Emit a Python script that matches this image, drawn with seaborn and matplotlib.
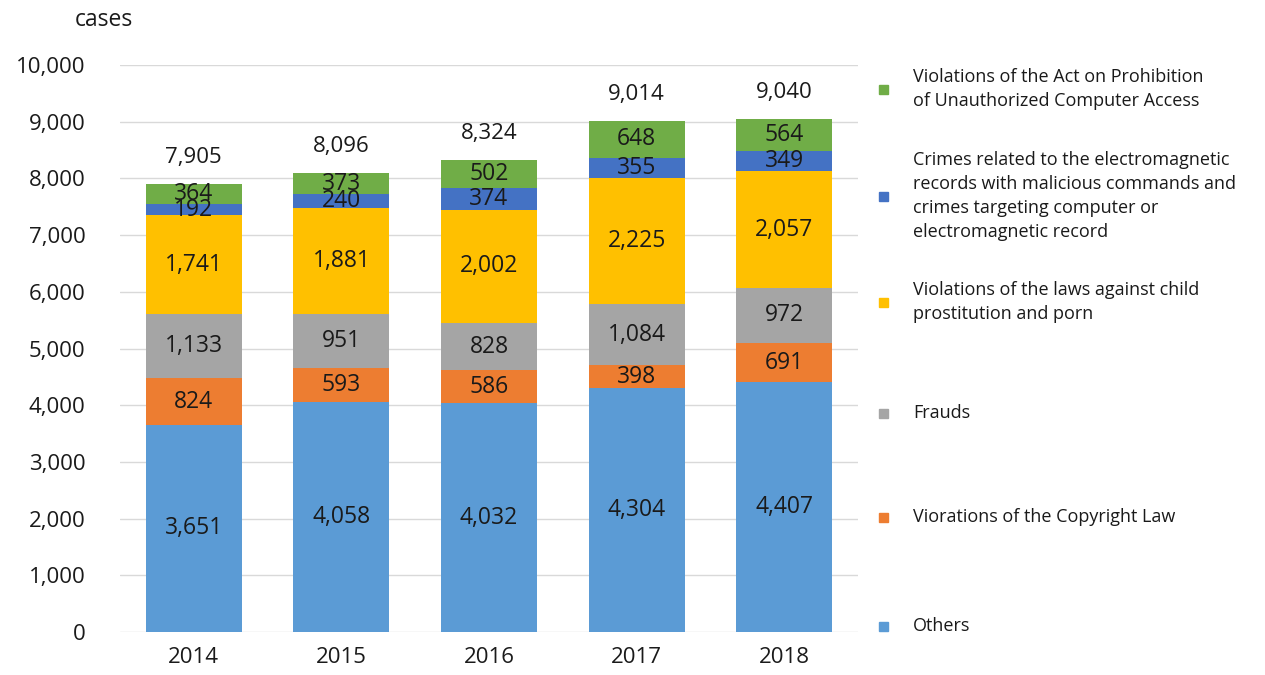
import matplotlib
matplotlib.use("Agg")
import matplotlib.pyplot as plt
import seaborn as sns
import pandas as pd
import numpy as np

# Data
years = ["2014", "2015", "2016", "2017", "2018"]
others = [3651, 4058, 4032, 4304, 4407]
copyright_law = [824, 593, 586, 398, 691]
frauds = [1133, 951, 828, 1084, 972]
child_porn = [1741, 1881, 2002, 2225, 2057]
malicious = [192, 240, 374, 355, 349]
unauthorized = [364, 373, 502, 648, 564]

labels = [
    "Others",
    "Viorations of the Copyright Law",
    "Frauds",
    "Violations of the laws against child\nprostitution and porn",
    "Crimes related to the electromagnetic\nrecords with malicious commands and\ncrimes targeting computer or\nelectromagnetic record",
    "Violations of the Act on Prohibition\nof Unauthorized Computer Access",
]
series = [others, copyright_law, frauds, child_porn, malicious, unauthorized]
colors = ["#5B9BD5", "#ED7D31", "#A5A5A5", "#FFC000", "#4472C4", "#70AD47"]

sns.set_theme(style="white")
plt.rcParams["font.family"] = ["Open Sans", "DejaVu Sans"]

fig = plt.figure(figsize=(12.65, 6.75), dpi=100)
ax = fig.add_axes([120 / 1265, 1 - 632 / 675, 738 / 1265, 567 / 675])

bottom = np.zeros(len(years))
for vals, col, lab in zip(series, colors, labels):
    df = pd.DataFrame({"year": years, "value": vals})
    sns.barplot(data=df, x="year", y="value", color=col, width=0.65,
                bottom=bottom, ax=ax, saturation=1, linewidth=0)
    # segment labels
    for i, v in enumerate(vals):
        ax.text(i, bottom[i] + v / 2, f"{v:,}", ha="center", va="center",
                fontsize=16.5, color="#1a1a1a")
    bottom = bottom + np.array(vals)

# totals
for i, t in enumerate(bottom):
    ax.text(i, t + 470, f"{int(t):,}", ha="center", va="center",
            fontsize=16, color="#1a1a1a")

ax.set_ylim(0, 10000)
ax.set_xlim(-0.5, 4.5)
ax.set_yticks(range(0, 10001, 1000))
ax.set_yticklabels([f"{v:,}" for v in range(0, 10001, 1000)])
ax.yaxis.grid(True, color="#D9D9D9", linewidth=1)
ax.set_axisbelow(True)
for s in ax.spines.values():
    s.set_visible(False)
ax.tick_params(axis="y", pad=25, labelsize=16, length=0, colors="#1a1a1a")
ax.tick_params(axis="x", pad=11, labelsize=16, length=0, colors="#1a1a1a")
ax.set_xlabel("")
ax.set_ylabel("")

fig.text(75 / 1265, 1 - 20 / 675, "cases", fontsize=16.5, va="center",
         ha="left", color="#1a1a1a")

# legend (top to bottom)
ys = [89, 196, 302, 413, 517, 626]
for y, col, lab in zip(ys, colors[::-1], labels[::-1]):
    fig.patches.append(plt.Rectangle((879 / 1265, 1 - (y + 5) / 675),
                                     9 / 1265, 9 / 675, color=col,
                                     transform=fig.transFigure))
    fig.text(913 / 1265, 1 - y / 675, lab, fontsize=13, va="center",
             ha="left", color="#1a1a1a", linespacing=1.45)

fig.savefig("out.png", dpi=100)
